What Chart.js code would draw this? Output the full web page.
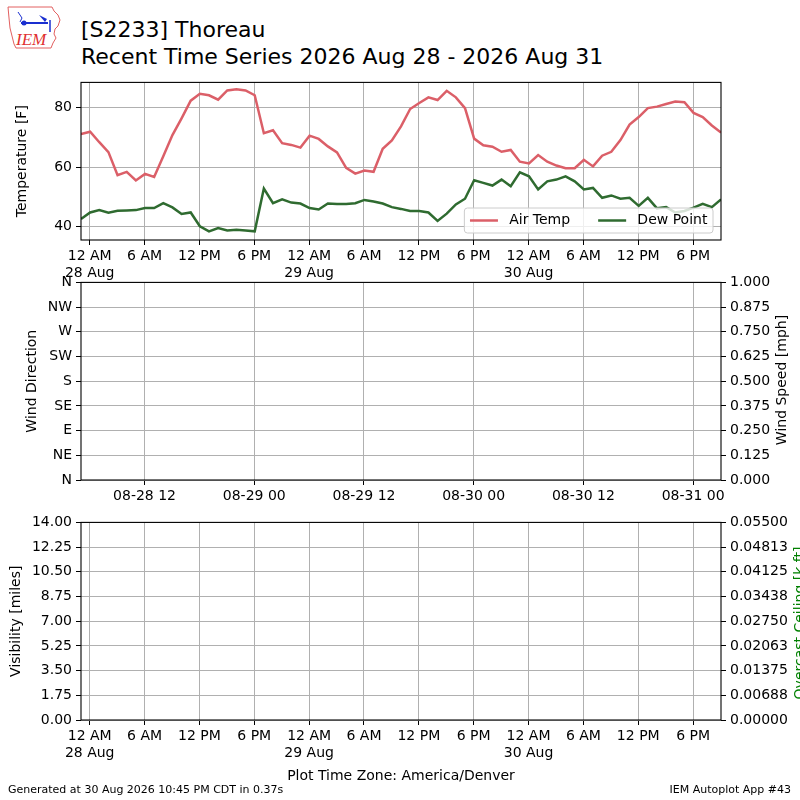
<!DOCTYPE html>
<html>
<head>
<meta charset="utf-8">
<title>[S2233] Thoreau</title>
<script src="https://cdn.jsdelivr.net/npm/chart.js@4.4.1/dist/chart.umd.min.js"></script>
<style>
html, body { margin: 0; padding: 0; background: #fff; width: 800px; height: 800px; overflow: hidden; }
body { position: relative; font-family: "DejaVu Sans", sans-serif; color: #000; }
canvas { position: absolute; left: 0; }
.txt { position: absolute; white-space: nowrap; }
.rot { position: absolute; white-space: nowrap; font-size: 14px; line-height: 17px; transform: translate(-50%, -50%) rotate(-90deg); }
</style>
</head>
<body>

<svg class="txt" style="left:0;top:0" width="70" height="55" viewBox="0 0 70 55">
  <path d="M8 7 L52 7 L54 11 L58 15 L60 20 L58 26 L55 29 L54 34 L56 38 L53 43 L51 48 L16 48 L14 44 L12 36 L10 28 L9 18 Z"
        fill="none" stroke="#e26060" stroke-width="1"/>
  <path d="M21 23 L48 23" stroke="#1a2fd0" stroke-width="2"/>
  <circle cx="24" cy="23" r="2.5" fill="#1a2fd0"/>
  <path d="M18 12 L22 18 L20 22" stroke="#1a2fd0" stroke-width="1" fill="none"/>
  <path d="M39 15 L47 19 L45 22 Z" fill="#1a2fd0"/>
  <path d="M50 20 L50 32" stroke="#1a2fd0" stroke-width="1.5"/>
  <text x="16" y="45" font-family="Liberation Serif, serif" font-style="italic" font-size="17" fill="#e03030">IEM</text>
</svg>

<div class="txt" style="left:81px;top:16px;font-size:22px;line-height:27px;">[S2233] Thoreau<br>Recent Time Series 2026 Aug 28 - 2026 Aug 31</div>

<canvas id="tempChart" style="top:70px;width:800px;height:215px" width="800" height="215"></canvas>
<canvas id="windChart" style="top:270px;width:800px;height:240px" width="800" height="240"></canvas>
<canvas id="visChart" style="top:510px;width:800px;height:290px" width="800" height="290"></canvas>

<div class="rot" style="left:781px;top:380px;">Wind Speed [mph]</div>
<div class="rot" style="left:799px;top:623px;color:#008000;">Overcast Ceiling [k ft]</div>

<div class="txt" style="left:8px;top:783px;font-size:11px;line-height:14px;">Generated at 30 Aug 2026 10:45 PM CDT in 0.37s</div>
<div class="txt" style="right:9px;top:783px;font-size:11px;line-height:14px;">IEM Autoplot App #43</div>

<script>
const OB_MINUTE = 3;
const obsHour = [-1, 0, 1, 2, 3, 4, 5, 6, 7, 8, 9, 10, 11, 12, 13, 14, 15, 16, 17, 18,
  19, 20, 21, 22, 23, 24, 25, 26, 27, 28, 29, 30, 31, 32, 33, 34, 35, 36, 37, 38,
  39, 40, 41, 42, 43, 44, 45, 46, 47, 48, 49, 50, 51, 52, 53, 54, 55, 56, 57, 58,
  59, 60, 61, 62, 63, 64, 65, 66, 67, 68, 69];

const airTemp = [71.0, 71.8, 68.3, 65.0, 57.3, 58.4, 55.5, 57.7, 56.7, 63.6,
  70.7, 76.3, 82.2, 84.5, 84.0, 82.5, 85.6, 86.0, 85.6, 84.0,
  71.3, 72.3, 68.0, 67.4, 66.5, 70.5, 69.4, 66.9, 64.9, 59.7,
  57.8, 58.8, 58.4, 66.1, 68.9, 73.6, 79.4, 81.4, 83.3, 82.4,
  85.5, 83.3, 79.7, 69.5, 67.3, 66.8, 65.1, 65.7, 61.8, 61.2,
  64.0, 61.8, 60.5, 59.6, 59.6, 62.4, 60.2, 63.8, 65.1, 69.0,
  74.2, 76.7, 79.7, 80.2, 81.1, 81.9, 81.7, 78.1, 76.7, 73.9, 71.5];

const dewPoint = [42.6, 44.8, 45.6, 44.7, 45.4, 45.5, 45.6, 46.3, 46.3, 47.9,
  46.5, 44.3, 44.8, 40.2, 38.5, 39.6, 38.8, 39.0, 38.8, 38.5,
  52.8, 47.9, 49.2, 48.1, 47.8, 46.3, 45.8, 47.8, 47.6, 47.6,
  47.9, 49.0, 48.5, 47.8, 46.6, 46.0, 45.3, 45.3, 44.8, 42.0,
  44.4, 47.5, 49.4, 55.6, 54.7, 53.8, 55.8, 53.6, 58.2, 56.9,
  52.5, 55.2, 55.8, 56.9, 55.2, 52.5, 53.0, 49.7, 50.5, 49.4,
  49.7, 47.0, 49.7, 46.2, 46.6, 44.8, 45.3, 46.4, 47.7, 46.6, 49.2];

const localTickHours = [0, 6, 12, 18, 24, 30, 36, 42, 48, 54, 60, 66];
const localTickLabels = [['12 AM', '28 Aug'], '6 AM', '12 PM', '6 PM',
  ['12 AM', '29 Aug'], '6 AM', '12 PM', '6 PM',
  ['12 AM', '30 Aug'], '6 AM', '12 PM', '6 PM'];
const utcTickHours = [6, 18, 30, 42, 54, 66];
const utcTickLabels = ['08-28 12', '08-29 00', '08-29 12', '08-30 00', '08-30 12', '08-31 00'];

const tempTicks = [40, 60, 80];
const dirTicks = [0, 45, 90, 135, 180, 225, 270, 315, 360];
const dirLabels = ['N', 'NE', 'E', 'SE', 'S', 'SW', 'W', 'NW', 'N'];
const speedTicks = [0, 0.125, 0.25, 0.375, 0.5, 0.625, 0.75, 0.875, 1];
const visTicks = [0, 1.75, 3.5, 5.25, 7, 8.75, 10.5, 12.25, 14];
const ceilTicks = [0, 0.006875, 0.01375, 0.020625, 0.0275, 0.034375, 0.04125, 0.048125, 0.055];
const ceilLabels = ['0.00000', '0.00688', '0.01375', '0.02063', '0.02750', '0.03438', '0.04125', '0.04813', '0.05500'];

const X_MIN = obsHour[0] + OB_MINUTE / 60;
const X_MAX = obsHour[obsHour.length - 1] + OB_MINUTE / 60;

Chart.defaults.font.family = '"DejaVu Sans", sans-serif';
Chart.defaults.font.size = 14;
Chart.defaults.color = '#000';
Chart.defaults.animation = false;

const GRID = { color: '#b0b0b0', lineWidth: 1, tickLength: 5, tickColor: '#000', tickWidth: 1 };

function fixedTicks(values) {
  return scale => { scale.ticks = values.map(v => ({ value: v })); };
}

function xAxis(tickValues, tickLabels, height, title) {
  return {
    type: 'linear', position: 'bottom', min: X_MIN, max: X_MAX,
    afterBuildTicks: fixedTicks(tickValues),
    afterFit: scale => { scale.height = height; },
    ticks: { autoSkip: false, maxRotation: 0, padding: 3, callback: (v, i) => tickLabels[i] },
    grid: GRID,
    border: { display: false },
    title: title || { display: false }
  };
}

function yAxis(min, max, tickValues, labelFn, title, titlePad, side) {
  const right = side === 'right';
  return {
    type: 'linear', position: right ? 'right' : 'left', min: min, max: max,
    afterBuildTicks: fixedTicks(tickValues),
    afterFit: scale => { scale.width = right ? 79 : 81; },
    ticks: { autoSkip: false, padding: 4, callback: labelFn },
    grid: right ? Object.assign({}, GRID, { drawOnChartArea: false }) : GRID,
    border: { display: false },
    title: title ? { display: true, text: title, padding: { top: titlePad, bottom: 0 } } : { display: false }
  };
}

// cadre noir autour de la zone de trace
const framePlugin = {
  id: 'frame',
  afterDraw(chart) {
    const a = chart.chartArea, ctx = chart.ctx;
    ctx.save();
    ctx.strokeStyle = '#000';
    ctx.lineWidth = 1.1;
    ctx.strokeRect(a.left, a.top, a.right - a.left, a.bottom - a.top);
    ctx.restore();
  }
};

// legende en bas a droite, dans la zone de trace
const cornerLegend = {
  id: 'cornerLegend',
  afterDraw(chart) {
    const ctx = chart.ctx, a = chart.chartArea, fs = 14;
    const sets = chart.data.datasets;
    ctx.save();
    ctx.font = fs + 'px "DejaVu Sans"';
    const handle = 2 * fs, pad = 0.8 * fs, colGap = 2 * fs, border = 0.4 * fs;
    const widths = sets.map(d => ctx.measureText(d.label).width);
    const w = 2 * border + sets.length * (handle + pad) + widths.reduce((s, v) => s + v, 0) + (sets.length - 1) * colGap;
    const h = 25;
    const x0 = a.right - 8 - w, y0 = a.bottom - 7 - h;
    ctx.fillStyle = 'rgba(255,255,255,0.8)';
    ctx.strokeStyle = '#cccccc';
    ctx.lineWidth = 1;
    ctx.beginPath();
    ctx.roundRect(x0, y0, w, h, 3);
    ctx.fill();
    ctx.stroke();
    let x = x0 + border;
    const cy = y0 + h / 2;
    sets.forEach((d, i) => {
      ctx.strokeStyle = d.borderColor;
      ctx.lineWidth = d.borderWidth;
      ctx.beginPath();
      ctx.moveTo(x, cy);
      ctx.lineTo(x + handle, cy);
      ctx.stroke();
      x += handle + pad;
      ctx.fillStyle = '#000';
      ctx.textBaseline = 'middle';
      ctx.fillText(d.label, x, cy);
      x += widths[i] + colGap;
    });
    ctx.restore();
  }
};

function series(values) {
  return values.map((v, i) => ({ x: obsHour[i] + OB_MINUTE / 60, y: v }));
}

const baseOptions = {
  responsive: false,
  maintainAspectRatio: false,
  plugins: { legend: { display: false }, tooltip: { enabled: false } },
  elements: { point: { radius: 0 }, line: { tension: 0 } }
};

new Chart(document.getElementById('tempChart'), {
  type: 'line',
  data: {
    datasets: [
      { label: 'Air Temp', data: series(airTemp), borderColor: '#db5f68', backgroundColor: '#db5f68', borderWidth: 2.5 },
      { label: 'Dew Point', data: series(dewPoint), borderColor: '#2f6b30', backgroundColor: '#2f6b30', borderWidth: 2.5 }
    ]
  },
  options: Object.assign({}, baseOptions, {
    layout: { padding: { top: 10, right: 79, left: 0, bottom: 0 } },
    scales: {
      x: xAxis(localTickHours, localTickLabels, 45),
      y: yAxis(35.6, 88.3, tempTicks, v => v, 'Temperature [F]', 13.5, 'left')
    }
  }),
  plugins: [framePlugin, cornerLegend]
});

new Chart(document.getElementById('windChart'), {
  type: 'line',
  data: {
    datasets: [
      { label: 'Wind Direction', data: [], yAxisID: 'y' },
      { label: 'Wind Speed', data: [], yAxisID: 'y2' }
    ]
  },
  options: Object.assign({}, baseOptions, {
    layout: { padding: { top: 10, right: 0, left: 0, bottom: 0 } },
    scales: {
      x: xAxis(utcTickHours, utcTickLabels, 30),
      y: yAxis(0, 360, dirTicks, (v, i) => dirLabels[i], 'Wind Direction', 24, 'left'),
      y2: yAxis(0, 1, speedTicks, v => v.toFixed(3), null, 0, 'right')
    }
  }),
  plugins: [framePlugin]
});

new Chart(document.getElementById('visChart'), {
  type: 'line',
  data: {
    datasets: [
      { label: 'Visibility', data: [], yAxisID: 'y' },
      { label: 'Overcast Ceiling', data: [], yAxisID: 'y2' }
    ]
  },
  options: Object.assign({}, baseOptions, {
    layout: { padding: { top: 10, right: 0, left: 0, bottom: 0 } },
    scales: {
      x: xAxis(localTickHours, localTickLabels, 80,
        { display: true, text: 'Plot Time Zone: America/Denver', padding: { top: 0, bottom: 15 } }),
      y: yAxis(0, 14, visTicks, v => v.toFixed(2), 'Visibility [miles]', 7.8, 'left'),
      y2: yAxis(0, 0.055, ceilTicks, (v, i) => ceilLabels[i], null, 0, 'right')
    }
  }),
  plugins: [framePlugin]
});
</script>
</body>
</html>
